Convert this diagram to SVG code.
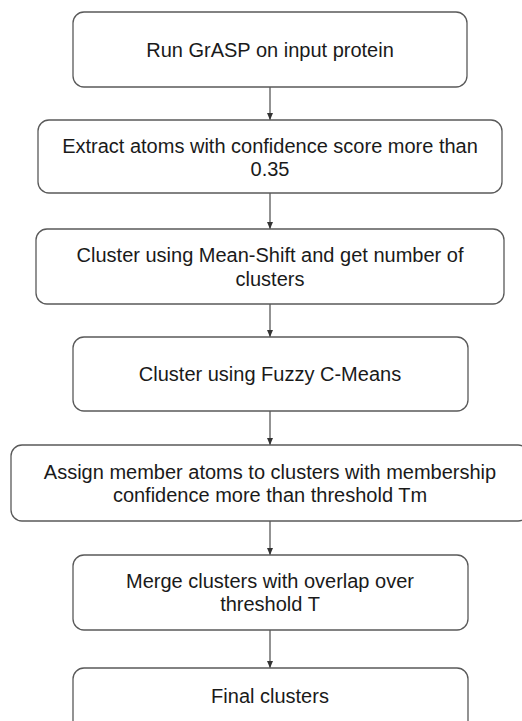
<svg xmlns="http://www.w3.org/2000/svg" width="522" height="721" viewBox="0 0 522 721">
  <style>
    .box { fill: #ffffff; stroke: #595959; stroke-width: 1.3; }
    .lbl { font-family: "Liberation Sans", Arial, sans-serif; font-size: 20px; fill: #1a1a1a; text-anchor: middle; }
    .edge { stroke: #595959; stroke-width: 1.3; fill: none; marker-end: url(#arrow); }
  </style>
  <defs>
    <marker id="arrow" viewBox="0 0 8 8" refX="7" refY="4" markerWidth="8" markerHeight="8" markerUnits="userSpaceOnUse" orient="auto">
      <path d="M0,1 L7,4 L0,7 Z" fill="#333333"/>
    </marker>
  </defs>
  <rect width="522" height="721" fill="#ffffff"/>

  <g id="edges">
    <line class="edge" x1="270" y1="87" x2="270" y2="120"/>
    <line class="edge" x1="270" y1="193" x2="270" y2="229"/>
    <line class="edge" x1="270" y1="304" x2="270" y2="337"/>
    <line class="edge" x1="270" y1="411" x2="270" y2="445"/>
    <line class="edge" x1="270" y1="521" x2="270" y2="555"/>
    <line class="edge" x1="270" y1="630" x2="270" y2="668"/>
  </g>

  <g id="run-grasp">
    <rect class="box" x="73" y="12" width="394" height="75" rx="11"/>
    <text class="lbl" x="270" y="57">Run GrASP on input protein</text>
  </g>

  <g id="extract-atoms">
    <rect class="box" x="38" y="120" width="464" height="73" rx="11"/>
    <text class="lbl" x="270" y="153">Extract atoms with confidence score more than</text>
    <text class="lbl" x="270" y="176">0.35</text>
  </g>

  <g id="mean-shift">
    <rect class="box" x="36" y="229" width="468" height="75" rx="11"/>
    <text class="lbl" x="270" y="262">Cluster using Mean-Shift and get number of</text>
    <text class="lbl" x="270" y="286">clusters</text>
  </g>

  <g id="fuzzy-cmeans">
    <rect class="box" x="73" y="337" width="395" height="74" rx="11"/>
    <text class="lbl" x="270" y="381">Cluster using Fuzzy C-Means</text>
  </g>

  <g id="assign-members">
    <rect class="box" x="11" y="445" width="518" height="76" rx="11"/>
    <text class="lbl" x="270" y="479">Assign member atoms to clusters with membership</text>
    <text class="lbl" x="270" y="502">confidence more than threshold Tm</text>
  </g>

  <g id="merge-clusters">
    <rect class="box" x="73" y="555" width="395" height="75" rx="11"/>
    <text class="lbl" x="270" y="588">Merge clusters with overlap over</text>
    <text class="lbl" x="270" y="611">threshold T</text>
  </g>

  <g id="final-clusters">
    <rect class="box" x="73" y="668" width="395" height="75" rx="11"/>
    <text class="lbl" x="270" y="703">Final clusters</text>
  </g>
</svg>
